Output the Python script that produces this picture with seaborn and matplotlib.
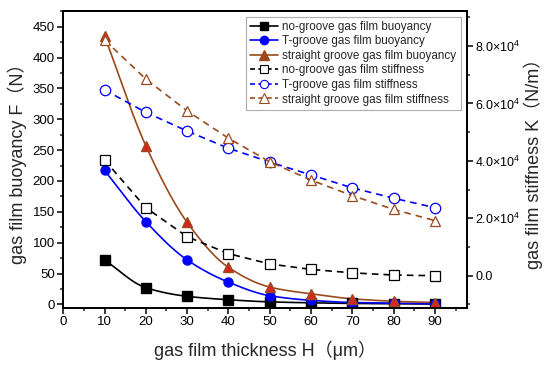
import numpy as np
import pandas as pd
import seaborn as sns
import matplotlib
matplotlib.use("Agg")
import matplotlib.pyplot as plt
from matplotlib.lines import Line2D
from matplotlib.ticker import MultipleLocator, FixedLocator, FuncFormatter

# ---------------- data ----------------
thickness = [10, 20, 30, 40, 50, 60, 70, 80, 90]
buoy_none = [72, 27, 13, 7.5, 4, 2.5, 1.5, 1, 0.5]
buoy_t = [217, 134, 72, 36, 14, 6.5, 3, 2, 1]
buoy_straight = [435, 257, 133, 60, 28, 17, 9, 5, 3]
stiff_none = [40300, 23700, 13600, 7700, 4100, 2200, 1000, 250, 0]
stiff_t = [64700, 56900, 50400, 44400, 39600, 35100, 30600, 27000, 23700]
stiff_straight = [82100, 68500, 57400, 47900, 39700, 33300, 27900, 23100, 19200]

labels = ["no-groove gas film buoyancy", "T-groove gas film buoyancy",
          "straight groove gas film buoyancy", "no-groove gas film stiffness",
          "T-groove gas film stiffness", "straight groove gas film stiffness"]

BLACK = "#000000"
BLUE = "#0000FF"
BROWN = "#9B4A1E"
RED = "#D9261C"

sns.set_theme(style="ticks")
plt.rcParams["font.family"] = ["Liberation Sans", "Noto Sans CJK SC", "DejaVu Sans"]
plt.rcParams["mathtext.fontset"] = "custom"
plt.rcParams["mathtext.rm"] = "Liberation Sans"
plt.rcParams["mathtext.it"] = "Liberation Sans"
plt.rcParams["mathtext.bf"] = "Liberation Sans"


def pchip(x, y, xs):
    x = np.asarray(x, float); y = np.asarray(y, float)
    h = np.diff(x); d = np.diff(y) / h
    m = np.zeros_like(y)
    for k in range(1, len(x) - 1):
        if d[k - 1] * d[k] > 0:
            w1 = 2 * h[k] + h[k - 1]; w2 = h[k] + 2 * h[k - 1]
            m[k] = (w1 + w2) / (w1 / d[k - 1] + w2 / d[k])
    m[0] = d[0]; m[-1] = d[-1]
    out = np.empty_like(xs)
    idx = np.clip(np.searchsorted(x, xs) - 1, 0, len(x) - 2)
    for j, xv in enumerate(xs):
        k = idx[j]; t = (xv - x[k]) / h[k]
        h00 = 2 * t**3 - 3 * t**2 + 1; h10 = t**3 - 2 * t**2 + t
        h01 = -2 * t**3 + 3 * t**2; h11 = t**3 - t**2
        out[j] = h00 * y[k] + h10 * h[k] * m[k] + h01 * y[k + 1] + h11 * h[k] * m[k + 1]
    return out


fig = plt.figure(figsize=(5.5, 3.69), dpi=100)
ax = fig.add_axes([0.115, 0.166, 0.7335, 0.805])
ax2 = ax.twinx()

xs = np.linspace(10, 90, 200)
buoy_series = [(buoy_none, BLACK, BLACK, BLACK, "s"),
               (buoy_t, BLUE, BLUE, BLUE, "o"),
               (buoy_straight, BROWN, RED, BROWN, "^")]
for vals, lc, fc, ec, mk in buoy_series:
    smooth = pd.DataFrame({"x": xs, "y": pchip(thickness, vals, xs)})
    sns.lineplot(data=smooth, x="x", y="y", ax=ax, color=lc, linewidth=1.2, zorder=3)
    pts = pd.DataFrame({"x": thickness, "y": vals})
    ax.plot(pts["x"], pts["y"], linestyle="none", marker=mk, markersize=6.5,
            markerfacecolor=fc, markeredgecolor=ec, markeredgewidth=1, zorder=4)

stiff_series = [(stiff_none, BLACK, "s"), (stiff_t, BLUE, "o"), (stiff_straight, BROWN, "^")]
for vals, c, mk in stiff_series:
    df = pd.DataFrame({"x": thickness, "y": vals})
    sns.lineplot(data=df, x="x", y="y", ax=ax2, color=c, linewidth=1.2,
                 linestyle=(0, (4, 3)), marker=mk, markersize=7.5,
                 markerfacecolor="white", markeredgecolor=c, markeredgewidth=0.9)

ax.set_xlim(0, 97.7)
ax.set_ylim(-5.5, 476)
ax2.set_ylim(-11150, 92300)

ax.xaxis.set_minor_locator(MultipleLocator(5))
ax.set_xticks([0, 10, 20, 30, 40, 50, 60, 70, 80, 90])
ax.yaxis.set_major_locator(MultipleLocator(50))
ax.yaxis.set_minor_locator(MultipleLocator(25))
ax2.yaxis.set_major_locator(FixedLocator([0, 20000, 40000, 60000, 80000]))
ax2.yaxis.set_minor_locator(FixedLocator([-10000, 10000, 30000, 50000, 70000, 90000]))


def kfmt(v, pos):
    if abs(v) < 1:
        return "0.0"
    return r"$%.1f{\times}10^{4}$" % (v / 1e4)


ax2.yaxis.set_major_formatter(FuncFormatter(kfmt))

for a in (ax, ax2):
    a.tick_params(which="major", direction="out", length=4, width=1.1, labelsize=9.5,
                  colors="black", pad=2)
    a.tick_params(which="minor", direction="out", length=2.5, width=1.1)
    for s in a.spines.values():
        s.set_linewidth(1.3)
        s.set_color("black")
ax2.tick_params(axis="y", labelsize=9)

ax.set_xlabel("gas film thickness H（μm）", fontsize=13, labelpad=9)
ax.set_ylabel("gas film buoyancy F（N）", fontsize=13, labelpad=4)
ax2.set_ylabel("gas film stiffness K（N/m）", fontsize=13, labelpad=2)

handles = [
    Line2D([], [], color=BLACK, lw=1.2, marker="s", markersize=5.5, mfc=BLACK, mec=BLACK),
    Line2D([], [], color=BLUE, lw=1.2, marker="o", markersize=6, mfc=BLUE, mec=BLUE),
    Line2D([], [], color=BROWN, lw=1.2, marker="^", markersize=6.5, mfc=BROWN, mec=BROWN),
    Line2D([], [], color=BLACK, lw=1.2, ls=(0, (3, 2)), marker="s", markersize=5.5, mfc="white", mec=BLACK, mew=0.8),
    Line2D([], [], color=BLUE, lw=1.2, ls=(0, (3, 2)), marker="o", markersize=6, mfc="white", mec=BLUE, mew=0.8),
    Line2D([], [], color=BROWN, lw=1.2, ls=(0, (3, 2)), marker="^", markersize=6.5, mfc="white", mec=BROWN, mew=0.8),
]
leg = ax2.legend(handles, labels, loc="upper right", bbox_to_anchor=(0.985, 0.98),
                 fontsize=8.4, frameon=True, fancybox=False, edgecolor="#999999",
                 handlelength=2.4, handletextpad=0.4, labelspacing=0.22,
                 borderpad=0.35, borderaxespad=0)
leg.get_frame().set_linewidth(0.8)

fig.savefig("out.png", dpi=100)
